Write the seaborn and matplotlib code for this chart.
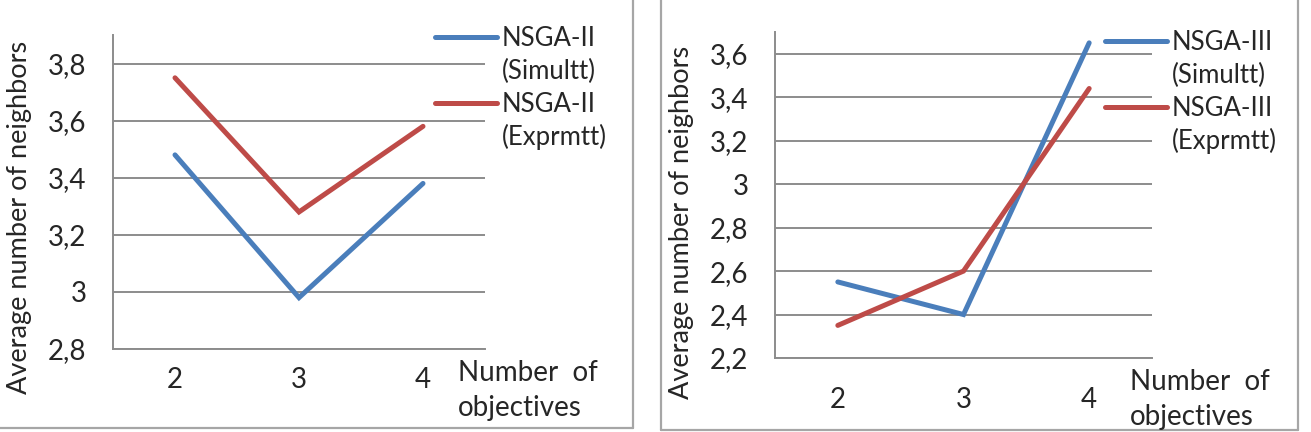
import matplotlib
matplotlib.use('Agg')
import matplotlib.pyplot as plt
import seaborn as sns
import pandas as pd
from matplotlib.lines import Line2D

objectives = [2, 3, 4]

nsga2_simultt = [3.48, 2.98, 3.38]
nsga2_exprmtt = [3.75, 3.28, 3.58]
nsga3_simultt = [2.55, 2.40, 3.65]
nsga3_exprmtt = [2.35, 2.60, 3.44]

left_names = ['NSGA-II', 'NSGA-II']
right_names = ['NSGA-III', 'NSGA-III']
runs = ['(Simultt)', '(Exprmtt)']

left_yticks = [2.8, 3.0, 3.2, 3.4, 3.6, 3.8]
left_yticklabels = ['2,8', '3', '3,2', '3,4', '3,6', '3,8']
right_yticks = [2.2, 2.4, 2.6, 2.8, 3.0, 3.2, 3.4, 3.6]
right_yticklabels = ['2,2', '2,4', '2,6', '2,8', '3', '3,2', '3,4', '3,6']

sns.set_style('white')
plt.rcParams['font.family'] = ['Lato', 'DejaVu Sans']

blue = '#4a7ebb'
red = '#be4b48'
grid = '#8c8c8c'
txt = '#262626'
W, H = 1311, 432

fig = plt.figure(figsize=(W / 100, H / 100), dpi=100)
ax1 = fig.add_axes([113 / W, 1 - 349 / H, 372 / W, 314 / H])
ax2 = fig.add_axes([775 / W, 1 - 358 / H, 377 / W, 326 / H])


def draw(ax, s1, s2, yticks, yticklabels, ylim, xpad, label_y):
    df = pd.DataFrame({'obj': objectives * 2,
                       'val': s1 + s2,
                       'series': [runs[0]] * 3 + [runs[1]] * 3})
    sns.lineplot(data=df, x='obj', y='val', hue='series',
                 palette=[blue, red], linewidth=3.6, ax=ax, legend=False,
                 solid_capstyle='round', solid_joinstyle='miter')
    ax.set_xlim(1.5, 4.5)
    ax.set_ylim(*ylim)
    ax.set_yticks(yticks)
    ax.set_yticklabels(yticklabels, fontsize=20, color=txt)
    ax.set_xticks(objectives)
    ax.set_xticklabels([str(o) for o in objectives], fontsize=20, color=txt)
    ax.set_xticks([1.5, 2.5, 3.5, 4.5], minor=True)
    ax.tick_params(axis='x', which='major', length=0, pad=xpad)
    ax.tick_params(axis='x', which='minor', length=7, width=1.3,
                   color=grid, direction='out')
    ax.tick_params(axis='y', length=7, width=1.3, color=grid,
                   direction='out', pad=12)
    ax.yaxis.grid(True, color=grid, linewidth=1.4)
    ax.set_axisbelow(True)
    for s in ['top', 'right']:
        ax.spines[s].set_visible(False)
    for s in ['left', 'bottom']:
        ax.spines[s].set_color(grid)
        ax.spines[s].set_linewidth(1.4)
    ax.set_xlabel('')
    ax.set_ylabel('Average number of neighbors', fontsize=19.5, color=txt)
    ax.yaxis.set_label_coords(-81 / ax.bbox.width, label_y)


draw(ax1, nsga2_simultt, nsga2_exprmtt, left_yticks, left_yticklabels,
     (2.8, 3.9), 13, 0.42)
draw(ax2, nsga3_simultt, nsga3_exprmtt, right_yticks, right_yticklabels,
     (2.2, 3.7), 21, 0.417)


def add_legend(names, x, y):
    handles = [Line2D([], [], color=blue, lw=3.6, solid_capstyle='round'),
               Line2D([], [], color='none'),
               Line2D([], [], color=red, lw=3.6, solid_capstyle='round'),
               Line2D([], [], color='none')]
    labels = [names[0], runs[0], names[1], runs[1]]
    fig.legend(handles, labels, loc='upper left',
               bbox_to_anchor=(x / W, 1 - y / H), frameon=False,
               fontsize=18.5, handlelength=2.4, handletextpad=0.2,
               labelspacing=0.3, borderpad=0, borderaxespad=0,
               labelcolor=txt)


add_legend(left_names, 435, 26)
add_legend(right_names, 1105, 30)

fig.text(458 / W, 1 - 373 / H, 'Number  of', fontsize=20, color=txt,
         va='center', ha='left')
fig.text(458 / W, 1 - 408 / H, 'objectives', fontsize=20, color=txt,
         va='center', ha='left')
fig.text(1130 / W, 1 - 382 / H, 'Number  of', fontsize=20, color=txt,
         va='center', ha='left')
fig.text(1130 / W, 1 - 417 / H, 'objectives', fontsize=20, color=txt,
         va='center', ha='left')

# panel frames
bc = '#a6a6a6'
for xs, ys in [([633, 633], [0, 428]), ([0, 633], [428, 428]),
               ([661, 661], [0, 430]), ([1298, 1298], [0, 430]),
               ([661, 1298], [430, 430])]:
    fig.add_artist(Line2D([v / W for v in xs], [1 - v / H for v in ys],
                          color=bc, lw=1.6, transform=fig.transFigure))

fig.savefig('out.png', dpi=100)
